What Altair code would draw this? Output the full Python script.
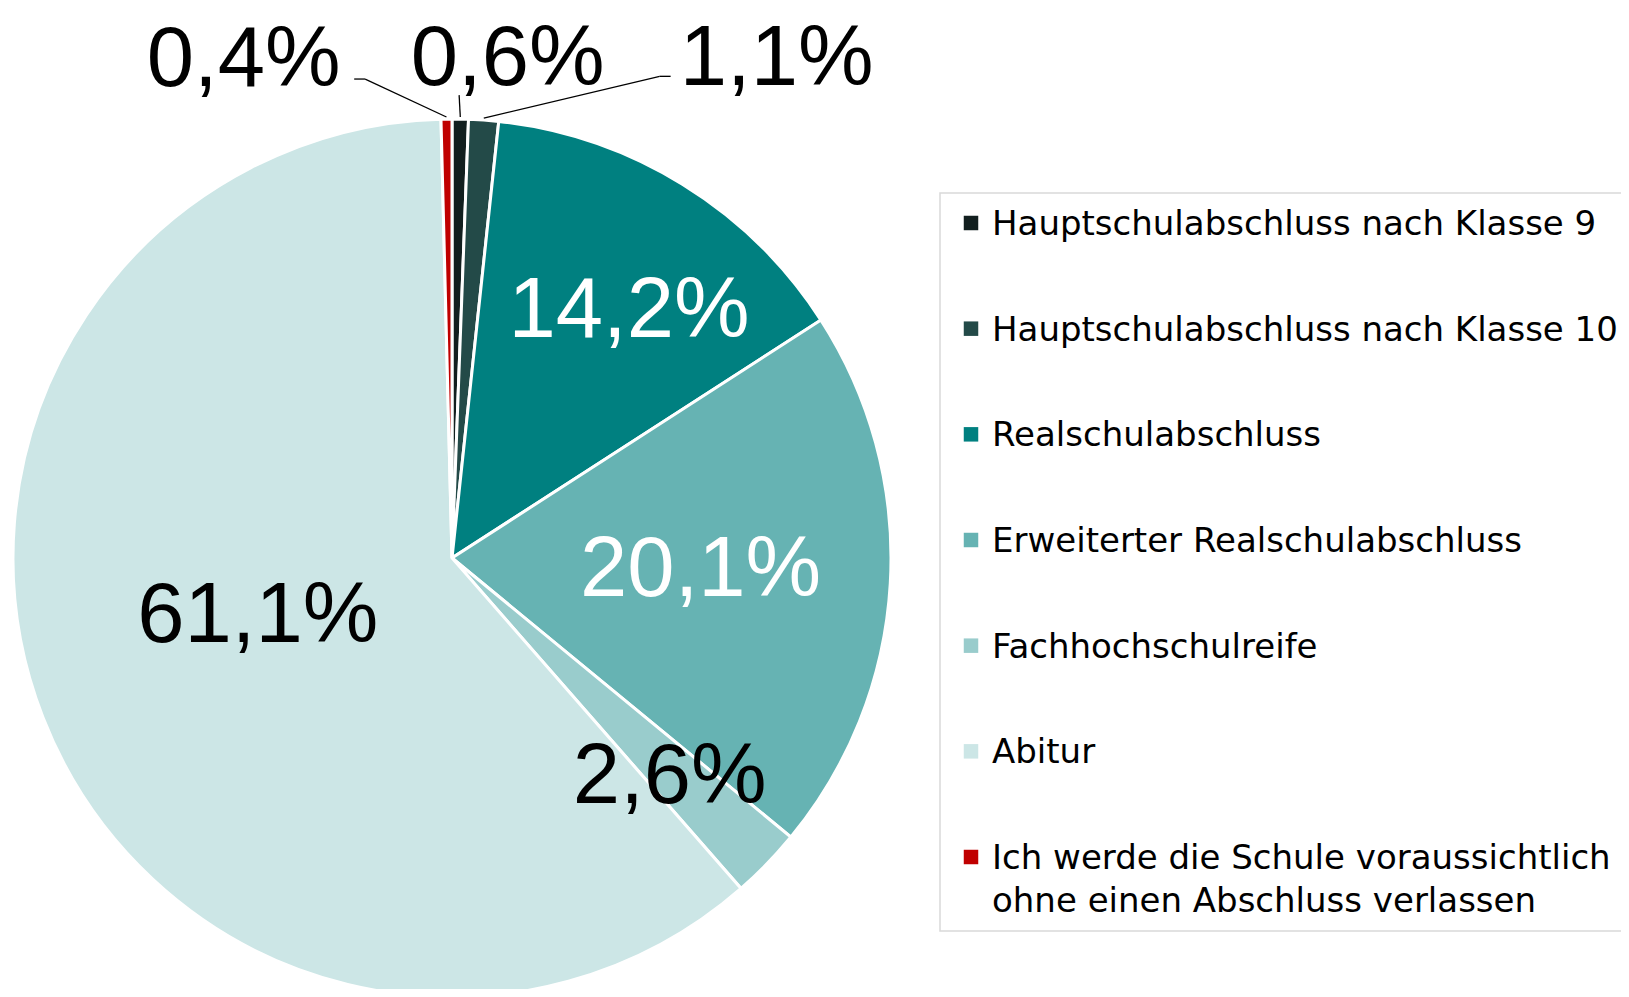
import altair as alt
import pandas as pd

# ---- data ----
categories = [
    "Hauptschulabschluss nach Klasse 9",
    "Hauptschulabschluss nach Klasse 10",
    "Realschulabschluss",
    "Erweiterter Realschulabschluss",
    "Fachhochschulreife",
    "Abitur",
    "Ich werde die Schule voraussichtlich\nohne einen Abschluss verlassen",
]
values = [0.6, 1.1, 14.2, 20.1, 2.6, 61.1, 0.4]
colors = ["#121f1f", "#234a48", "#008080", "#66b3b3", "#99cccc", "#cce6e6", "#c00000"]
labels = [f"{v:.1f}".replace(".", ",") + "%" for v in values]

df = pd.DataFrame({"cat": categories, "value": values,
                   "order": list(range(len(values))), "label": labels})

# ---- layout (styling) ----
CX, CY, R = 444, 550, 439
PCT_FONT = "Liberation Sans, Arial, sans-serif"
LEG_FONT = "DejaVu Sans, Liberation Sans, sans-serif"

# per-label placement: radius, dx, dy, text colour
placement = {
    categories[0]: (511, 46, 12, "black"),
    categories[1]: (508, 288, 8, "black"),
    categories[2]: (303, 18, 11, "white"),
    categories[3]: (249, 0, -2, "white"),
    categories[4]: (309, -4, 4, "black"),
    categories[5]: (202, -6, -15, "black"),
    categories[6]: (503, -202, 5, "black"),
}
# leader lines: elbow offset from label anchor (ex, ey) and horizontal tail length
leaders = {
    categories[0]: (-48.5, 36, 0),
    categories[1]: (-117, 17, 11),
    categories[6]: (121.5, 19, -11),
}

color_scale = alt.Scale(domain=categories, range=colors)
base = alt.Chart(df)

pie = base.mark_arc(outerRadius=R, stroke="white", strokeWidth=3).encode(
    theta=alt.Theta("value:Q", stack=True),
    order=alt.Order("order:Q"),
    color=alt.Color("cat:N", scale=color_scale, legend=None),
    x=alt.value(CX),
    y=alt.value(CY),
)

mid = base.transform_window(
    cum="sum(value)", sort=[alt.SortField("order")]
).transform_joinaggregate(
    total="sum(value)"
).transform_calculate(
    mid="(datum.cum - datum.value/2) / datum.total * 2 * PI"
)

layers = [pie]
for cat, (r, dx, dy, col) in placement.items():
    layers.append(
        mid.transform_filter(alt.datum.cat == cat).mark_text(
            radius=r, dx=dx, dy=dy, fontSize=85, font=PCT_FONT, color=col,
            align="center", baseline="middle",
        ).encode(
            theta=alt.Theta("mid:Q", scale=None, stack=False),
            text="label:N",
            x=alt.value(CX),
            y=alt.value(CY),
        )
    )

for cat, (ex, ey, hx) in leaders.items():
    r, dx, dy, _ = placement[cat]
    t = mid.transform_filter(alt.datum.cat == cat).transform_calculate(
        xA=f"{CX} + {R + 2}*sin(datum.mid)",
        yA=f"{CY} - {R + 2}*cos(datum.mid)",
        xB=f"{CX} + {r}*sin(datum.mid) + {dx + ex}",
        yB=f"{CY} - {r}*cos(datum.mid) + {dy + ey}",
    ).transform_calculate(xC=f"datum.xB + {hx}")
    layers.append(
        t.mark_rule(color="black", strokeWidth=1.3).encode(
            x=alt.X("xA:Q", scale=None, axis=None),
            y=alt.Y("yA:Q", scale=None, axis=None),
            x2="xB:Q", y2="yB:Q",
        )
    )
    if hx != 0:
        layers.append(
            t.mark_rule(color="black", strokeWidth=1.3).encode(
                x=alt.X("xB:Q", scale=None, axis=None),
                x2="xC:Q",
                y=alt.Y("yB:Q", scale=None, axis=None),
            )
        )

# legend box
box = base.transform_filter("datum.order == 0").mark_rect(
    fill="white", fillOpacity=0, stroke="#d9d9d9", strokeWidth=1.5
).encode(x=alt.value(932), x2=alt.value(1640), y=alt.value(185), y2=alt.value(923))

leg_y = alt.Y("cat:N", scale=alt.Scale(type="point", domain=categories,
                                       range=[215, 849], padding=0), axis=None)
leg_sq = base.mark_square(size=210, opacity=1).encode(
    x=alt.value(963), y=leg_y,
    color=alt.Color("cat:N", scale=color_scale, legend=None),
)
leg_tx = base.mark_text(
    align="left", baseline="alphabetic", dy=12, fontSize=34, font=LEG_FONT,
    color="black", lineBreak="\n", lineHeight=43,
).encode(x=alt.value(984), y=leg_y, text="cat:N")

chart = alt.layer(box, *layers, leg_sq, leg_tx).resolve_scale(
    x="independent", y="independent"
).properties(
    width=1613, height=981, padding=0,
    autosize=alt.AutoSizeParams(type="none"),
).configure_view(stroke=None)

chart.save("out.html", embed_options={"renderer": "svg", "actions": False})
